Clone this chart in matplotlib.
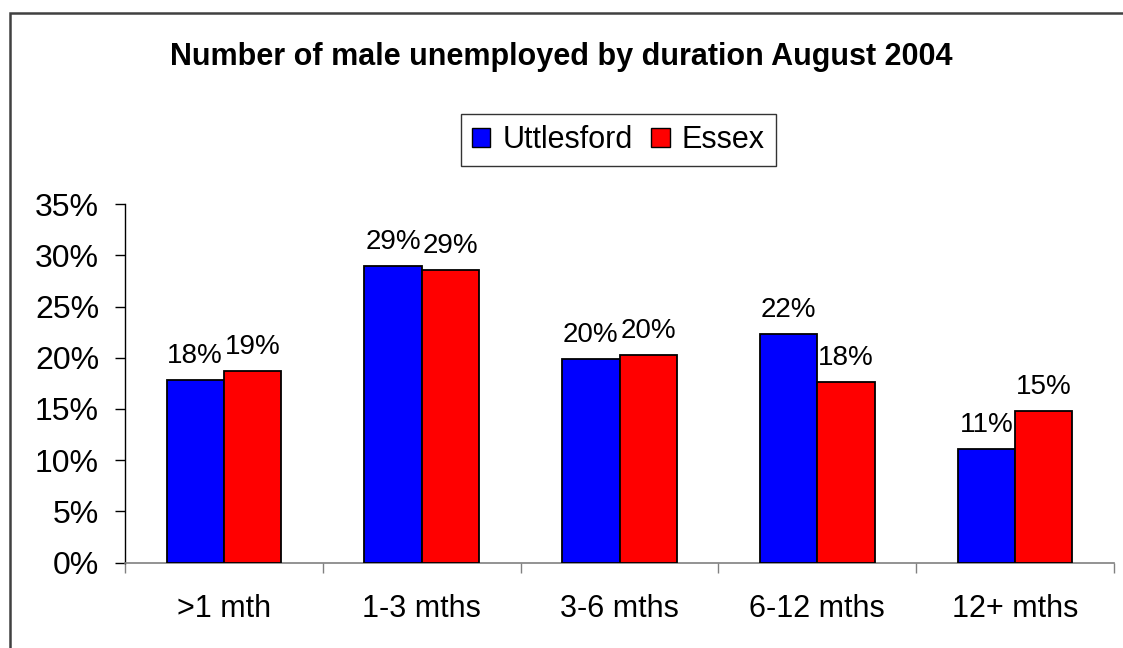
import matplotlib
matplotlib.use("Agg")
import matplotlib.pyplot as plt
from matplotlib.patches import Rectangle, Patch
import numpy as np

plt.rcParams['font.family'] = ['Liberation Sans', 'DejaVu Sans']

categories = [">1 mth", "1-3 mths", "3-6 mths", "6-12 mths", "12+ mths"]
uttlesford = [17.8, 29.0, 19.9, 22.3, 11.1]
essex = [18.7, 28.6, 20.3, 17.6, 14.8]
series_names = ["Uttlesford", "Essex"]
yticks = [0, 5, 10, 15, 20, 25, 30, 35]
title = "Number of male unemployed by duration August 2004"

W, H = 1123, 648
fig = plt.figure(figsize=(W / 100, H / 100), dpi=100)
fig.patch.set_facecolor("white")

# outer border (extends past right / bottom edges)
fig.patches.append(Rectangle((10 / W, -0.1), 1.2, 1 - 13 / H + 0.1,
                             transform=fig.transFigure, fill=False,
                             edgecolor="#404040", linewidth=1.8, zorder=0))

left, right = 125 / W, 1114 / W
bottom, top = 1 - 562.5 / H, 1 - 204.3 / H
ax = fig.add_axes([left, bottom, right - left, top - bottom])

x = np.arange(len(categories))
bw = 0.29
b1 = ax.bar(x - bw / 2, uttlesford, bw, color="#0000FF", edgecolor="black",
            linewidth=1.3, label=series_names[0], zorder=3)
b2 = ax.bar(x + bw / 2, essex, bw, color="#FF0000", edgecolor="black",
            linewidth=1.3, label=series_names[1], zorder=3)

for bars, vals in ((b1, uttlesford), (b2, essex)):
    for rect, v in zip(bars, vals):
        ax.annotate(f"{round(v):.0f}%", (rect.get_x() + rect.get_width() / 2, v),
                    xytext=(0, 12.2), textcoords="offset points",
                    ha="center", va="baseline", fontsize=20, zorder=4)

ax.set_xlim(-0.5, len(categories) - 0.5)
ax.set_ylim(0, 35)
ax.set_yticks(yticks)
ax.set_yticklabels([f"{t}%" for t in yticks], fontsize=23)
ax.set_xticks(x)
ax.set_xticklabels(categories, fontsize=22)
ax.set_xticks(np.arange(len(categories) + 1) - 0.5, minor=True)
ax.tick_params(axis="x", which="major", length=0, pad=23)
ax.tick_params(axis="x", which="minor", length=7.2, direction="out",
               color="#808080", width=1)
ax.tick_params(axis="y", which="major", length=7.2, direction="out",
               width=1, pad=11.5, color="black")

for s in ("top", "right"):
    ax.spines[s].set_visible(False)
ax.spines["left"].set_color("black")
ax.spines["left"].set_linewidth(1)
ax.spines["bottom"].set_color("#808080")
ax.spines["bottom"].set_linewidth(1.2)

fig.text(0.5, 1 - 65 / H, title, ha="center", va="baseline",
         fontsize=22, fontweight="bold")

handles = [Patch(facecolor="#0000FF", edgecolor="black", linewidth=1),
           Patch(facecolor="#FF0000", edgecolor="black", linewidth=1)]
leg = fig.legend(handles, series_names, loc="center",
                 bbox_to_anchor=(618.5 / W, 1 - 140 / H), ncol=2,
                 fontsize=22, frameon=True, fancybox=False, shadow=False,
                 handlelength=0.6, handleheight=0.6, handletextpad=0.4,
                 columnspacing=0.6, borderpad=0.35)
leg.get_frame().set_edgecolor("black")
leg.get_frame().set_linewidth(1)

fig.savefig("out.png", dpi=100, facecolor="white")
